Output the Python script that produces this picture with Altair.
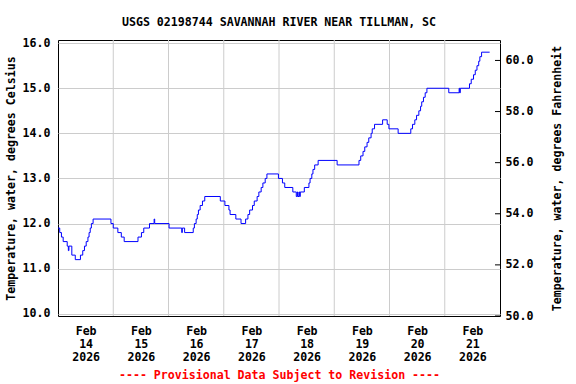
import altair as alt
import pandas as pd

TITLE = "USGS 02198744 SAVANNAH RIVER NEAR TILLMAN, SC"
Y_TITLE = "Temperature, water, degrees Celsius"
Y2_TITLE = "Temperature, water, degrees Fahrenheit"
FOOTER = "---- Provisional Data Subject to Revision ----"

# Step changes (local time, value in degrees C holds until the next time)
feb14_t = ["00:00", "00:45", "01:30", "02:15", "04:00", "04:30", "04:45", "06:00", "07:30", "09:45",
           "10:45", "11:30", "12:15", "13:00", "13:30", "14:00", "14:30", "15:15", "23:00"]
feb14_v = [11.9, 11.8, 11.7, 11.6, 11.5, 11.4, 11.5, 11.3, 11.2, 11.3,
           11.4, 11.5, 11.6, 11.7, 11.8, 11.9, 12.0, 12.1, 12.0]
feb15_t = ["00:00", "02:00", "03:30", "04:45", "10:45", "12:15", "13:15", "15:45", "17:45", "18:00"]
feb15_v = [11.9, 11.8, 11.7, 11.6, 11.7, 11.8, 11.9, 12.0, 12.1, 12.0]
feb16_t = ["00:15", "05:45", "06:00", "07:00", "10:45", "11:15", "12:00", "12:30", "13:00", "13:45",
           "14:45", "15:45", "22:30"]
feb16_v = [11.9, 11.8, 11.9, 11.8, 11.9, 12.0, 12.1, 12.2, 12.3, 12.4,
           12.5, 12.6, 12.5]
feb17_t = ["00:30", "02:15", "02:45", "05:15", "07:30", "09:30", "10:30", "11:15", "12:30", "13:15",
           "14:30", "15:15", "16:15", "17:00", "18:00", "18:45", "23:45"]
feb17_v = [12.4, 12.3, 12.2, 12.1, 12.0, 12.1, 12.2, 12.3, 12.4, 12.5,
           12.6, 12.7, 12.8, 12.9, 13.0, 13.1, 13.0]
feb18_t = ["01:30", "02:30", "06:00", "07:30", "08:00", "08:15", "08:45", "09:00", "09:15", "11:00",
           "13:00", "13:30", "14:15", "14:45", "15:30", "17:00"]
feb18_v = [12.9, 12.8, 12.7, 12.6, 12.7, 12.6, 12.7, 12.6, 12.7, 12.8,
           12.9, 13.0, 13.1, 13.2, 13.3, 13.4]
feb19_t = ["01:15", "10:45", "11:30", "12:30", "13:15", "14:15", "15:00", "16:00", "16:30", "17:30",
           "21:00", "23:00", "23:45"]
feb19_v = [13.3, 13.4, 13.5, 13.6, 13.7, 13.8, 13.9, 14.0, 14.1, 14.2,
           14.3, 14.2, 14.1]
feb20_t = ["03:45", "09:15", "10:00", "11:00", "11:45", "12:45", "13:30", "14:00", "14:45", "15:30",
           "16:15"]
feb20_v = [14.0, 14.1, 14.2, 14.3, 14.4, 14.5, 14.6, 14.7, 14.8, 14.9,
           15.0]
feb21_t = ["01:45", "06:15", "06:30", "06:45", "10:45", "11:30", "12:30", "13:15", "14:00", "14:45",
           "15:15", "16:00", "19:30"]
feb21_v = [14.9, 15.0, 14.9, 15.0, 15.1, 15.2, 15.3, 15.4, 15.5, 15.6,
           15.7, 15.8, 15.8]

days = [("2026-02-14", feb14_t, feb14_v), ("2026-02-15", feb15_t, feb15_v),
        ("2026-02-16", feb16_t, feb16_v), ("2026-02-17", feb17_t, feb17_v),
        ("2026-02-18", feb18_t, feb18_v), ("2026-02-19", feb19_t, feb19_v),
        ("2026-02-20", feb20_t, feb20_v), ("2026-02-21", feb21_t, feb21_v)]
times, temps = [], []
for d, ts, vs in days:
    assert len(ts) == len(vs), d
    times += [f"{d}T{t}:00" for t in ts]
    temps += vs

grid_days = ["2026-02-15T00:00:00", "2026-02-16T00:00:00", "2026-02-17T00:00:00",
             "2026-02-18T00:00:00", "2026-02-19T00:00:00", "2026-02-20T00:00:00",
             "2026-02-21T00:00:00"]
label_days = [14, 15, 16, 17, 18, 19, 20, 21]
c_ticks = [10, 11, 12, 13, 14, 15, 16]
f_ticks = [50, 52, 54, 56, 58, 60]

df = pd.DataFrame({"time": times, "temp": temps})
df["tempF"] = df["temp"] * 9 / 5 + 32
grid_df = pd.DataFrame({"time": grid_days})
ftick_df = pd.DataFrame({"f": f_ticks})

FONT = "DejaVu Sans Mono"
x_scale = alt.Scale(domain=[alt.DateTime(year=2026, month=2, date=14),
                            alt.DateTime(year=2026, month=2, date=22)])
y_scale = alt.Scale(domain=[9.95, 16.07], nice=False, zero=False)
f_scale = alt.Scale(domain=[50.0, 60.8], nice=False, zero=False)

x_axis = alt.Axis(
    values=[alt.DateTime(year=2026, month=2, date=d, hours=12) for d in label_days],
    labelExpr="[timeFormat(datum.value, '%b'), timeFormat(datum.value, '%d'), timeFormat(datum.value, '%Y')]",
    grid=False, ticks=False, tickSize=0, domain=False, labelPadding=9, labelLineHeight=13,
    title=FOOTER, titleColor="#ff0000", titlePadding=7, labelAngle=0,
)
f_axis = alt.Axis(orient="right", values=f_ticks, format=".1f", grid=False,
                  ticks=False, tickSize=0, domain=False, labelPadding=5,
                  title=Y2_TITLE, titleAngle=270, titlePadding=30)

vgrid = alt.Chart(grid_df).mark_rule(color="#cccccc", strokeWidth=1).encode(
    x=alt.X("time:T", scale=x_scale, axis=x_axis)
)

line = alt.Chart(df).mark_line(color="#0000ff", strokeWidth=1, interpolate="step-after").encode(
    x=alt.X("time:T", scale=x_scale, axis=x_axis),
    y=alt.Y("temp:Q", scale=y_scale,
            axis=alt.Axis(values=c_ticks, format=".1f", grid=True, gridColor="#cccccc",
                          ticks=False, tickSize=0, domain=False, labelPadding=8,
                          title=Y_TITLE, titlePadding=6)),
)

ghost = alt.Chart(df).mark_line(opacity=0).encode(
    x=alt.X("time:T", scale=x_scale, axis=x_axis),
    y=alt.Y("tempF:Q", scale=f_scale, axis=f_axis),
)

fticks = alt.Chart(ftick_df).mark_rule(color="black", strokeWidth=1).encode(
    x=alt.value(437), x2=alt.value(442),
    y=alt.Y("f:Q", scale=f_scale, axis=f_axis),
)

left = alt.layer(vgrid, line)
right = alt.layer(ghost, fticks)

chart = alt.layer(left, right).resolve_scale(y="independent").properties(
    width=442, height=276,
    title=alt.TitleParams(TITLE, font=FONT, fontSize=11.6, fontWeight="bold", color="black",
                          anchor="middle", frame="group", offset=9),
    autosize=alt.AutoSizeParams(type="none"),
    padding={"left": 58, "top": 40, "right": 76, "bottom": 68},
).configure(background="white").configure_view(stroke="black", strokeWidth=1).configure_axis(
    labelFont=FONT, labelFontSize=11.6, labelFontWeight="bold", labelColor="black",
    titleFont=FONT, titleFontSize=11.6, titleFontWeight="bold", titleColor="black",
)

chart.save("out.html", embed_options={"renderer": "svg", "actions": False})
